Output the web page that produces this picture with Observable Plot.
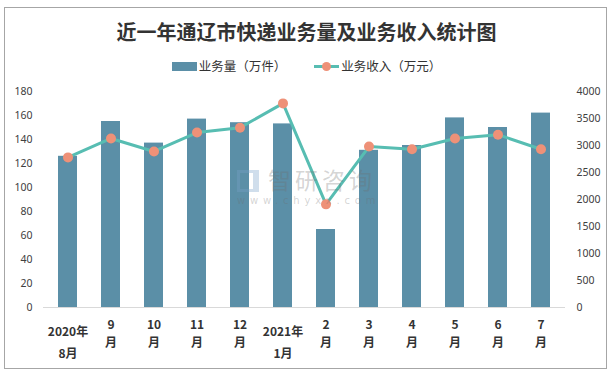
<!DOCTYPE html>
<html>
<head>
<meta charset="utf-8">
<script src="https://cdn.jsdelivr.net/npm/d3@7"></script>
<script src="https://cdn.jsdelivr.net/npm/@observablehq/plot@0.6"></script>
<style>
  html, body { margin: 0; padding: 0; background: #fff; }
  body { width: 613px; height: 377px; position: relative; overflow: hidden; font-family: "Noto Sans CJK SC", "Noto Sans", sans-serif; }
  #frame { position: absolute; left: 4px; top: 7px; width: 603px; height: 362px; border: 1px solid #a6a6a6; box-sizing: border-box; }
  #title { position: absolute; left: 0; top: 19px; width: 613px; text-align: center; font-size: 20px; font-weight: bold; color: #333; line-height: 26px; }
  #legend { position: absolute; left: 0; top: 57px; width: 613px; display: flex; justify-content: center; align-items: center; font-size: 12.5px; color: #333; line-height: 18px; }
  .item { display: flex; align-items: center; margin: 0 14px; }
  .sw-bar { width: 25px; height: 9px; background: #5b8fa7; margin-right: 2px; }
  .sw-line { width: 25px; height: 10px; position: relative; margin-right: 2px; }
  .sw-line::before { content: ""; position: absolute; left: 0; right: 0; top: 4px; height: 3px; background: #57bdb2; }
  .sw-line::after { content: ""; position: absolute; left: 8px; top: 1px; width: 9px; height: 9px; border-radius: 50%; background: #ee9178; }
  #chart { position: absolute; left: 0; top: 80px; }
  .wm { position: absolute; pointer-events: none; white-space: nowrap; }
  #wm-big { left: 268px; top: 166px; font-size: 23px; letter-spacing: 4px; line-height: 27px; color: rgba(110,110,110,0.30); }
  #wm-small { left: 237px; top: 195px; font-size: 10px; letter-spacing: 4.8px; line-height: 11px; color: rgba(110,110,110,0.30); font-family: "DejaVu Sans", sans-serif; }
  #wm-logo { left: 237px; top: 170px; width: 22px; height: 22px; border: 3px solid rgba(120,160,200,0.35); border-right-width: 6px; box-sizing: border-box; }
</style>
</head>
<body>
<div id="frame"></div>
<div id="title">近一年通辽市快递业务量及业务收入统计图</div>
<div id="legend">
  <div class="item"><div class="sw-bar"></div><span>业务量（万件）</span></div>
  <div class="item"><div class="sw-line"></div><span>业务收入（万元）</span></div>
</div>
<div id="chart"></div>
<div class="wm" id="wm-logo"></div>
<div class="wm" id="wm-big">智研咨询</div>
<div class="wm" id="wm-small">www.chyxx.com</div>
<script>
const months = ["2020年8月","9月","10月","11月","12月","2021年1月","2月","3月","4月","5月","6月","7月"];
const tickLabels = ["2020年\n8月","9\n月","10\n月","11\n月","12\n月","2021年\n1月","2\n月","3\n月","4\n月","5\n月","6\n月","7\n月"];
const volume = [126,155,137,157,154,153,65,131,135,158,150,162];   // 万件 (left axis)
const revenue = [2780,3130,2890,3240,3330,3780,1910,2980,2930,3130,3200,2930]; // 万元 (right axis)
const leftTicks = [0,20,40,60,80,100,120,140,160,180];
const rightTicks = [0,500,1000,1500,2000,2500,3000,3500,4000];

const leftMax = 180, rightMax = 4000;
const k = leftMax / rightMax;
const data = months.map((m, i) => ({month: m, volume: volume[i], rev: revenue[i] * k}));
const labelOf = new Map(months.map((m, i) => [m, tickLabels[i]]));
const yearTicks = months.filter(m => m.includes("年"));
const monthTicks = months.filter(m => !m.includes("年"));

const xLabelStyle = {tickSize: 0, label: null, tickFormat: d => labelOf.get(d), fontWeight: "bold", fontSize: 12, fill: "#333", fontFamily: "'Noto Sans CJK SC', sans-serif"};

const chart = Plot.plot({
  width: 613,
  height: 285,
  marginTop: 11,
  marginBottom: 58,
  marginLeft: 43,
  marginRight: 48,
  style: {fontFamily: "'Noto Sans', 'Noto Sans CJK SC', sans-serif", fontSize: "10.5px", color: "#404040", background: "transparent"},
  x: {domain: months, paddingInner: 0.55, paddingOuter: 0.275},
  y: {domain: [0, leftMax]},
  marks: [
    Plot.barY(data, {x: "month", y: "volume", fill: "#5b8fa7"}),
    Plot.ruleY([0], {stroke: "#d9d9d9", strokeWidth: 1}),
    Plot.line(data, {x: "month", y: "rev", stroke: "#57bdb2", strokeWidth: 3}),
    Plot.dot(data, {x: "month", y: "rev", r: 5, fill: "#ee9178", stroke: "none"}),
    Plot.axisY(leftTicks, {anchor: "left", tickSize: 0, tickPadding: 11, label: null, fill: "#404040"}),
    Plot.axisY(rightTicks.map(v => v * k), {anchor: "right", tickSize: 0, tickPadding: 11, label: null, fill: "#404040", tickFormat: d => String(Math.round(d / k))}),
    Plot.axisX(yearTicks, {...xLabelStyle, tickPadding: 13, lineHeight: 1.83}),
    Plot.axisX(monthTicks, {...xLabelStyle, tickPadding: 9, lineHeight: 1.5})
  ]
});
document.getElementById("chart").appendChild(chart);
</script>
</body>
</html>
